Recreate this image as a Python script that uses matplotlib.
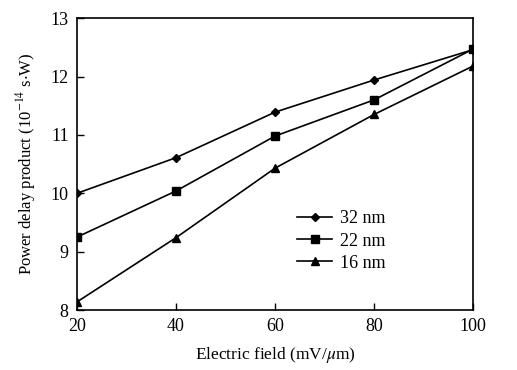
import numpy as np
import matplotlib.pyplot as plt

plt.rcParams['font.family'] = ['Liberation Serif', 'DejaVu Serif']
plt.rcParams['mathtext.fontset'] = 'stix'

# data
field = [20, 40, 60, 80, 100]
pdp_32 = [10.0, 10.61, 11.39, 11.94, 12.46]
pdp_22 = [9.25, 10.04, 10.98, 11.60, 12.47]
pdp_16 = [8.14, 9.24, 10.43, 11.35, 12.18]

fig = plt.figure(figsize=(5.17, 3.70), dpi=100)
ax = fig.add_axes([0.149, 0.162, 0.766, 0.789])

ax.plot(field, pdp_32, 'k-', marker='D', markersize=4, linewidth=1.2, label='32 nm')
ax.plot(field, pdp_22, 'k-', marker='s', markersize=6, linewidth=1.2, label='22 nm')
ax.plot(field, pdp_16, 'k-', marker='^', markersize=6, linewidth=1.2, label='16 nm')

ax.set_xlim(20, 100)
ax.set_ylim(8, 13)
ax.set_xticks([20, 40, 60, 80, 100])
ax.set_yticks([8, 9, 10, 11, 12, 13])
ax.tick_params(direction='in', length=5, width=1, labelsize=13, pad=6)
for s in ax.spines.values():
    s.set_linewidth(1.2)

ax.set_xlabel('Electric field (mV/$\\mu$m)', fontsize=12.5, labelpad=7)
ax.set_ylabel('Power delay product (10$^{-14}$ s$\\cdot$W)', fontsize=12, labelpad=9)

ax.legend(loc='upper left', bbox_to_anchor=(0.533, 0.372), frameon=False,
          fontsize=13, handlelength=1.95, handletextpad=0.4,
          labelspacing=0.28, borderpad=0)

fig.savefig('out.png', dpi=100)
